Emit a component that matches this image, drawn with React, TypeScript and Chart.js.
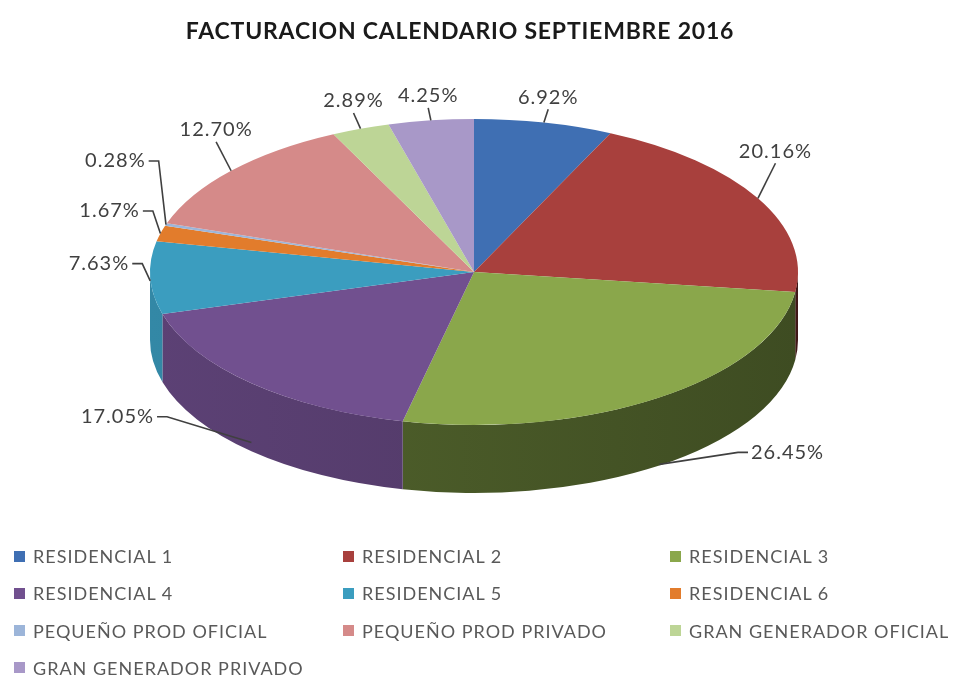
import React, { useEffect, useRef } from "react";
import { Chart, registerables } from "chart.js";

Chart.register(...registerables);

const TITLE = "FACTURACION CALENDARIO SEPTIEMBRE 2016";
const CATEGORIES = [
  "RESIDENCIAL 1",
  "RESIDENCIAL 2",
  "RESIDENCIAL 3",
  "RESIDENCIAL 4",
  "RESIDENCIAL 5",
  "RESIDENCIAL 6",
  "PEQUEÑO PROD OFICIAL",
  "PEQUEÑO PROD PRIVADO",
  "GRAN GENERADOR OFICIAL",
  "GRAN GENERADOR PRIVADO",
];
const VALUES = [6.92, 20.16, 26.45, 17.05, 7.63, 1.67, 0.28, 12.7, 2.89, 4.25];
const COLORS = [
  "#3f6fb3",
  "#a8403d",
  "#8aa74b",
  "#71508f",
  "#3b9dbf",
  "#e27c2c",
  "#9cb5d9",
  "#d58a89",
  "#bdd596",
  "#a898c8",
];

const W = 958;
const H = 677;
const PIE_RX = 324;
const PIE_RY = 153;
const PIE_DEPTH = 68;
const FONT = "Lato, 'Open Sans', sans-serif";
const LABEL_COLOR = "#404040";
const LEGEND_COLOR = "#595959";

function shade(hex: string, f: number): string {
  const n = parseInt(hex.slice(1), 16);
  const r = Math.min(255, Math.round(((n >> 16) & 255) * f));
  const g = Math.min(255, Math.round(((n >> 8) & 255) * f));
  const b = Math.min(255, Math.round((n & 255) * f));
  return `rgb(${r},${g},${b})`;
}

const pie3d = {
  id: "pie3d",
  beforeDatasetsDraw(chart: any) {
    const meta = chart.getDatasetMeta(0);
    const arcs = meta.data;
    const ctx = chart.ctx;
    if (!arcs.length) return;
    const { x: cx, y: cy, outerRadius: R } = arcs[0];
    // visible front wall of the disc, lit from the left
    arcs.forEach((arc: any, i: number) => {
      const b0 = Math.max(arc.startAngle, 0);
      const b1 = Math.min(arc.endAngle, Math.PI);
      if (b1 <= b0) return;
      const mid = (b0 + b1) / 2;
      const f = 0.63 - 0.17 * Math.cos(mid);
      const grad = ctx.createLinearGradient(cx - PIE_RX, 0, cx + PIE_RX, 0);
      grad.addColorStop(0, shade(COLORS[i], f + 0.07));
      grad.addColorStop(1, shade(COLORS[i], f - 0.08));
      ctx.beginPath();
      ctx.ellipse(cx, cy, PIE_RX, PIE_RY, 0, b0, b1, false);
      ctx.ellipse(cx, cy + PIE_DEPTH, PIE_RX, PIE_RY, 0, b1, b0, true);
      ctx.closePath();
      ctx.fillStyle = grad;
      ctx.fill();
    });
    // squash the chart's own circle into the top ellipse
    ctx.save();
    ctx.translate(cx, cy);
    ctx.scale(PIE_RX / R, PIE_RY / R);
    ctx.translate(-cx, -cy);
  },
  afterDatasetsDraw(chart: any) {
    const ctx = chart.ctx;
    ctx.restore();
    const meta = chart.getDatasetMeta(0);
    const arcs = meta.data;
    if (!arcs.length) return;
    const { x: cx, y: cy } = arcs[0];
    const vals = chart.data.datasets[0].data as number[];

    type L = { ax: number; ay: number; px: number; py: number; tx: number; ty: number; align: string; base: string; text: string; side: number };
    const labels: L[] = arcs.map((arc: any, i: number) => {
      const th = (arc.startAngle + arc.endAngle) / 2;
      const c = Math.cos(th);
      const s = Math.sin(th);
      const ax = cx + PIE_RX * c;
      const ay = cy + PIE_RY * s + (s > 0 ? PIE_DEPTH * Math.min(1, s * 1.2) : 0);
      const text = vals[i].toFixed(2) + "%";
      if (s < -0.45) {
        const px = ax + c * 20;
        const py = ay - 12 - 30 * c * c;
        return { ax, ay, px, py, tx: px, ty: py - 2, align: "center", base: "bottom", text, side: 0 };
      }
      const dir = c >= 0 ? 1 : -1;
      if (s > 0.3) {
        const px = ax + dir * (60 + 50 * Math.abs(c));
        const py = ay - 12 - 20 * Math.max(0, -c);
        return { ax, ay, px, py, tx: px + dir * 3, ty: py, align: dir > 0 ? "left" : "right", base: "middle", text, side: dir };
      }
      const px = ax + c * 14 + dir * 4;
      const py = ay + s * 18 - 18;
      return { ax, ay, px, py, tx: px + dir * 3, ty: py, align: dir > 0 ? "left" : "right", base: "middle", text, side: dir };
    });

    // resolve vertical overlaps on each side
    [-1, 1].forEach((side) => {
      const group = labels.filter((l) => l.side === side).sort((a, b) => b.ty - a.ty);
      for (let k = 1; k < group.length; k++) {
        const prev = group[k - 1];
        const cur = group[k];
        if (prev.ty - cur.ty < 50) {
          const ny = prev.ty - 50;
          cur.py += ny - cur.ty;
          cur.ty = ny;
        }
      }
    });

    ctx.save();
    ctx.strokeStyle = LABEL_COLOR;
    ctx.lineWidth = 1.6;
    ctx.fillStyle = LABEL_COLOR;
    ctx.font = `20px ${FONT}`;
    try {
      (ctx as any).letterSpacing = "1px";
    } catch (e) {}
    labels.forEach((l) => {
      ctx.beginPath();
      ctx.moveTo(l.ax, l.ay);
      if (l.side === 0) {
        ctx.lineTo(l.px, l.py);
      } else {
        const dir = l.side;
        ctx.lineTo(l.px - dir * 10, l.py);
        ctx.lineTo(l.px, l.py);
      }
      ctx.stroke();
      ctx.textAlign = l.align as CanvasTextAlign;
      ctx.textBaseline = l.base as CanvasTextBaseline;
      ctx.fillText(l.text, l.tx, l.ty);
    });
    ctx.restore();
  },
};

export default function App() {
  const ref = useRef<HTMLCanvasElement | null>(null);

  useEffect(() => {
    document.body.style.margin = "0";
    if (!ref.current) return;
    const chart = new Chart(ref.current, {
      type: "pie",
      data: {
        labels: CATEGORIES,
        datasets: [
          {
            data: VALUES,
            backgroundColor: COLORS,
            borderWidth: 0,
          },
        ],
      },
      options: {
        responsive: false,
        maintainAspectRatio: false,
        animation: false,
        events: [],
        layout: { padding: { top: 0, bottom: 133, left: 0, right: 10 } },
        plugins: {
          legend: { display: false },
          tooltip: { enabled: false },
          title: { display: false },
        },
      },
      plugins: [pie3d],
    });
    return () => chart.destroy();
  }, []);

  return (
    <div style={{ position: "relative", width: W, height: H, background: "#fff" }}>
      <canvas ref={ref} width={W} height={H} style={{ position: "absolute", left: 0, top: 0 }} />
      <div
        style={{
          position: "absolute",
          left: 0,
          top: 16,
          width: 920,
          textAlign: "center",
          fontFamily: FONT,
          fontWeight: "bold",
          fontSize: 23,
          lineHeight: "28px",
          letterSpacing: "0.8px",
          color: "#1a1a1a",
          whiteSpace: "nowrap",
        }}
      >
        {TITLE}
      </div>
      {CATEGORIES.map((name, i) => {
        const col = i % 3;
        const row = Math.floor(i / 3);
        const left = [14, 343, 670][col];
        const top = 556 + row * 37.3;
        return (
          <div
            key={name}
            style={{
              position: "absolute",
              left,
              top: top - 12,
              height: 24,
              display: "flex",
              alignItems: "center",
              whiteSpace: "nowrap",
              fontFamily: FONT,
              fontSize: 18,
              letterSpacing: "1px",
              color: LEGEND_COLOR,
            }}
          >
            <span style={{ display: "inline-block", width: 11, height: 11, background: COLORS[i], marginRight: 8 }} />
            <span>{name}</span>
          </div>
        );
      })}
    </div>
  );
}
